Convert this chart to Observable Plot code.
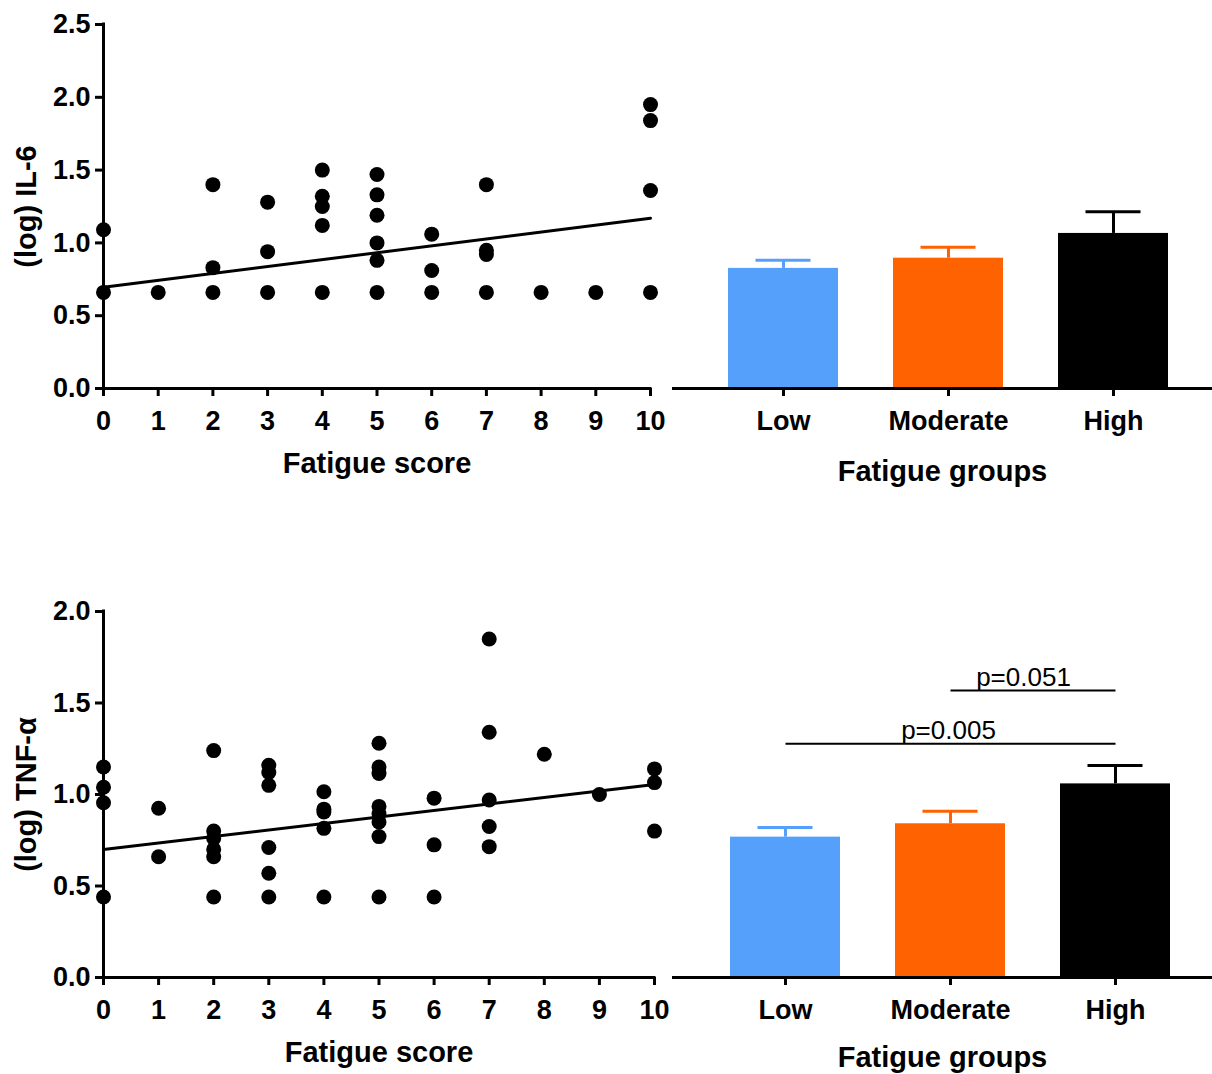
<!DOCTYPE html>
<html>
<head>
<meta charset="utf-8">
<script src="https://cdn.jsdelivr.net/npm/d3@7"></script>
<script src="https://cdn.jsdelivr.net/npm/@observablehq/plot@0.6"></script>
<style>
  body { margin: 0; background: #fff; }
  #fig { position: relative; width: 1212px; height: 1074px; overflow: hidden; background: #fff; }
  #fig > div { position: absolute; }
</style>
</head>
<body>
<div id="fig">
  <div id="p1" style="left:0px;top:0px"></div>
  <div id="p2" style="left:665px;top:0px"></div>
  <div id="p3" style="left:0px;top:540px"></div>
  <div id="p4" style="left:669px;top:540px"></div>
</div>
<script>
// ---------------- data ----------------
const scoreTicks = [0, 1, 2, 3, 4, 5, 6, 7, 8, 9, 10];
const il6YTicks = [0, 0.5, 1.0, 1.5, 2.0, 2.5];
const tnfYTicks = [0, 0.5, 1.0, 1.5, 2.0];
const fitX = [0, 10];

// IL-6 scatter (fatigue score vs log IL-6)
const il6Scores = [0,0,1,2,2,2,3,3,3,4,4,4,4,4,5,5,5,5,5,5,6,6,6,7,7,7,7,8,9,10,10,10,10];
const il6Values = [1.09,0.66,0.66,1.40,0.83,0.66,1.28,0.94,0.66,1.50,1.32,1.25,1.12,0.66,
                   1.47,1.33,1.19,1.00,0.88,0.66,1.06,0.81,0.66,1.40,0.95,0.92,0.66,0.66,0.66,
                   1.95,1.84,1.36,0.66];
const il6FitIntercept = 0.695;
const il6FitSlope = 0.0475;

// TNF-α scatter
const tnfScores = [0,0,0,0,1,1,2,2,2,2,2,2,3,3,3,3,3,3,4,4,4,4,4,5,5,5,5,5,5,5,5,6,6,6,7,7,7,7,7,8,9,10,10,10];
const tnfValues = [1.15,1.04,0.955,0.44, 0.925,0.66, 1.24,0.80,0.76,0.70,0.66,0.44,
                   1.16,1.12,1.05,0.71,0.57,0.44, 1.015,0.92,0.905,0.815,0.44,
                   1.28,1.15,1.115,0.935,0.895,0.85,0.77,0.44, 0.98,0.725,0.44,
                   1.85,1.34,0.97,0.825,0.715, 1.22, 1.00, 1.14,1.065,0.80];
const tnfFitIntercept = 0.70;
const tnfFitSlope = 0.0355;

// Group bars (mean and mean + SEM)
const groups = ["Low", "Moderate", "High"];
const il6Means = [0.825, 0.895, 1.065];
const il6Upper = [0.881, 0.970, 1.214];
const tnfMeans = [0.767, 0.840, 1.058];
const tnfUpper = [0.820, 0.909, 1.158];

// significance annotations (TNF-α groups)
const sigFrom = ["Low", "Moderate"];
const sigTo = ["High", "High"];
const sigLevel = [1.277, 1.568];
const sigLabels = ["p=0.005", "p=0.051"];

// ---------------- styles ----------------
const groupColors = ["#55a0fb", "#ff6200", "#000000"];
const fontFamily = '"Liberation Sans", Arial, Helvetica, sans-serif';
const baseStyle = {fontFamily, background: "transparent", overflow: "visible", color: "#000"};

// ---------------- build tables ----------------
const il6Points = il6Scores.map((s, i) => ({score: s, value: il6Values[i]}));
const tnfPoints = tnfScores.map((s, i) => ({score: s, value: tnfValues[i]}));
const il6Fit = fitX.map(x => ({x, y: il6FitIntercept + il6FitSlope * x}));
const tnfFit = fitX.map(x => ({x, y: tnfFitIntercept + tnfFitSlope * x}));
const il6Bars = groups.map((g, i) => ({group: g, mean: il6Means[i], upper: il6Upper[i]}));
const tnfBars = groups.map((g, i) => ({group: g, mean: tnfMeans[i], upper: tnfUpper[i]}));
const sigData = sigFrom.map((f, i) => ({from: f, to: sigTo[i], y: sigLevel[i], label: sigLabels[i]}));

function scatter({points, fit, yDomain, yTicks, yLabel, width, height, marginTop, marginBottom, marginRight}) {
  return Plot.plot({
    width, height, marginLeft: 103, marginRight, marginTop, marginBottom,
    style: baseStyle,
    x: {domain: [0, 10]},
    y: {domain: yDomain},
    marks: [
      Plot.dot(points, {x: "score", y: "value", r: 7.5, fill: "#000"}),
      Plot.line(fit, {x: "x", y: "y", stroke: "#000", strokeWidth: 3}),
      Plot.ruleY([0], {stroke: "#000", strokeWidth: 3, strokeLinecap: "square"}),
      Plot.ruleX([0], {stroke: "#000", strokeWidth: 3, strokeLinecap: "square"}),
      Plot.axisX({ticks: scoreTicks, tickFormat: d3.format("d"), tickSize: 8, tickPadding: 14,
        strokeWidth: 3, fontSize: 27, fontWeight: "bold", label: null}),
      Plot.axisX({ticks: [], tickSize: 0, label: "Fatigue score", labelAnchor: "center", labelArrow: "none",
        labelOffset: 84, fontSize: 29, fontWeight: "bold"}),
      Plot.axisY({ticks: yTicks, tickFormat: d3.format(".1f"), tickSize: 8, tickPadding: 5,
        strokeWidth: 3, fontSize: 27, fontWeight: "bold", label: null}),
      Plot.axisY({ticks: [], tickSize: 0, label: yLabel, labelAnchor: "center", labelArrow: "none",
        labelOffset: 88, fontSize: 29, fontWeight: "bold"})
    ]
  });
}

function bars({data, yDomain, width, height, marginLeft, marginTop, marginBottom, range, labelOffset, extra = []}) {
  return Plot.plot({
    width, height, marginLeft, marginRight: 0, marginTop, marginBottom,
    style: baseStyle,
    x: {domain: groups, range, paddingInner: 1/3, paddingOuter: 1/6},
    y: {domain: yDomain, axis: null},
    color: {domain: groups, range: groupColors},
    marks: [
      Plot.barY(data, {x: "group", y: "mean", fill: "group"}),
      Plot.ruleX(data, {x: "group", y1: "mean", y2: "upper", stroke: "group", strokeWidth: 3}),
      Plot.tickY(data, {x: "group", y: "upper", stroke: "group", strokeWidth: 3, insetLeft: 27.5, insetRight: 27.5}),
      Plot.ruleY([0], {stroke: "#000", strokeWidth: 3}),
      Plot.axisX({tickSize: 8, tickPadding: 14, strokeWidth: 3, fontSize: 27, fontWeight: "bold", label: null}),
      Plot.axisX({ticks: [], tickSize: 0, label: "Fatigue groups", labelAnchor: "center", labelArrow: "none",
        labelOffset, fontSize: 29, fontWeight: "bold"}),
      ...extra
    ]
  });
}

document.getElementById("p1").append(scatter({
  points: il6Points, fit: il6Fit, yDomain: [0, 2.5], yTicks: il6YTicks, yLabel: "(log) IL-6",
  width: 665, height: 490, marginTop: 24, marginBottom: 102, marginRight: 15
}));

document.getElementById("p2").append(bars({
  data: il6Bars, yDomain: [0, 2.5], width: 547, height: 490, marginLeft: 7,
  marginTop: 24, marginBottom: 102, range: [35.5, 530.5], labelOffset: 92
}));

document.getElementById("p3").append(scatter({
  points: tnfPoints, fit: tnfFit, yDomain: [0, 2], yTicks: tnfYTicks, yLabel: "(log) TNF-α",
  width: 669, height: 534, marginTop: 71, marginBottom: 97, marginRight: 15
}));

document.getElementById("p4").append(bars({
  data: tnfBars, yDomain: [0, 2], width: 543, height: 534, marginLeft: 3,
  marginTop: 71, marginBottom: 97, range: [33.5, 528.5], labelOffset: 89,
  extra: [
    Plot.link(sigData, {x1: "from", x2: "to", y1: "y", y2: "y", stroke: "#000", strokeWidth: 2}),
    Plot.text(sigData.slice(0, 1), {x: "from", y: "y", text: "label", dx: 163, dy: -5,
      lineAnchor: "bottom", fontSize: 26, fill: "#000"}),
    Plot.text(sigData.slice(1, 2), {x: "from", y: "y", text: "label", dx: 73, dy: -5,
      lineAnchor: "bottom", fontSize: 26, fill: "#000"})
  ]
}));
</script>
</body>
</html>
